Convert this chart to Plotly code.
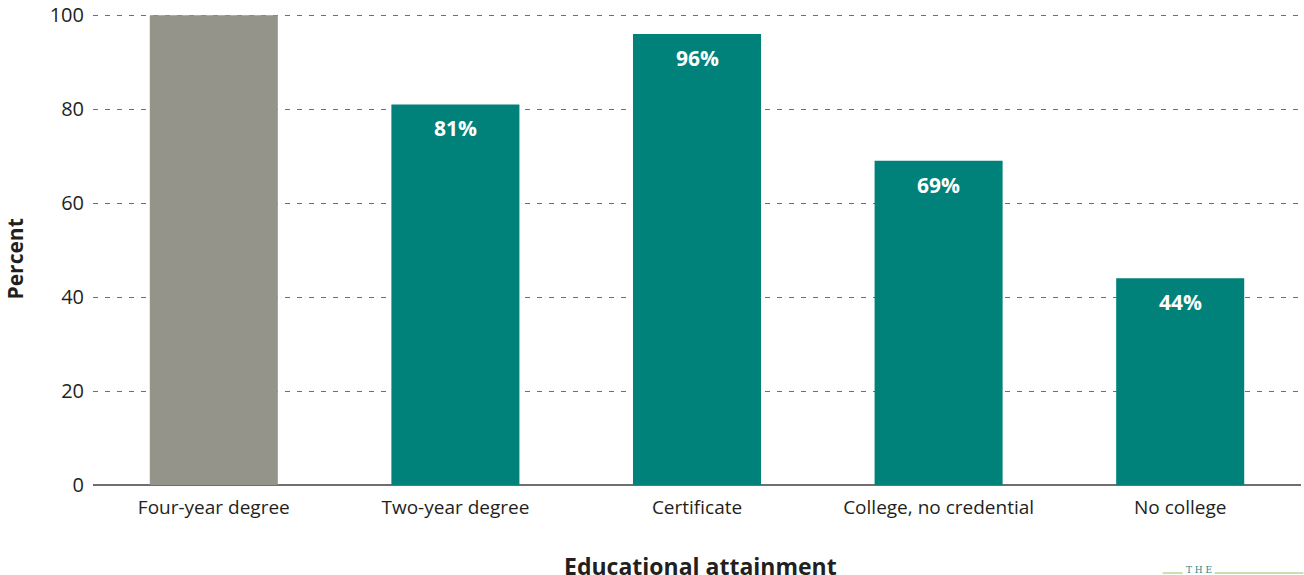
import plotly.graph_objects as go

categories = ["Four-year degree", "Two-year degree", "Certificate", "College, no credential", "No college"]
values = [100, 81, 96, 69, 44]
labels = ["", "81%", "96%", "69%", "44%"]
colors = ["#94948a", "#00827a", "#00827a", "#00827a", "#00827a"]

fig = go.Figure()
fig.add_trace(go.Bar(x=categories, y=values, marker=dict(color=colors, line=dict(width=0)),
                     hoverinfo="skip", showlegend=False))

for c, v, t in zip(categories, values, labels):
    if t:
        fig.add_annotation(x=c, y=v, text="<b>%s</b>" % t, showarrow=False, yanchor="top",
                           yshift=-8, font=dict(family="Open Sans", size=21, color="white"))

# axis titles
fig.add_annotation(xref="paper", yref="paper", x=0.503, y=-0.173, text="<b>Educational attainment</b>",
                   showarrow=False, yanchor="middle", xanchor="center",
                   font=dict(family="Open Sans", size=23, color="#231f20"))
fig.add_annotation(xref="paper", yref="paper", x=-0.0645, y=0.479, text="<b>Percent</b>", textangle=-90,
                   showarrow=False, yanchor="middle", xanchor="center",
                   font=dict(family="Open Sans", size=21, color="#231f20"))

# logo fragment
fig.add_annotation(xref="paper", yref="paper", x=0.9155, y=-0.181, text="T H E", showarrow=False,
                   yanchor="middle", xanchor="center",
                   font=dict(family="DejaVu Serif", size=9, color="#2a8a86"))
fig.add_shape(type="line", xref="paper", yref="paper", x0=0.8855, x1=0.902, y0=-0.187, y1=-0.187,
              line=dict(color="#c8dfb0", width=2))
fig.add_shape(type="line", xref="paper", yref="paper", x0=0.9285, x1=1.002, y0=-0.187, y1=-0.187,
              line=dict(color="#c8dfb0", width=2))

fig.update_layout(
    width=1304, height=575,
    margin=dict(l=93, r=3, t=14, b=90, autoexpand=False),
    paper_bgcolor="white", plot_bgcolor="white",
    bargap=0.47,
    font=dict(family="Open Sans", size=19, color="#231f20"),
    xaxis=dict(showgrid=False, showline=False, ticks="", tickfont=dict(size=19, color="#231f20"),
               automargin=False, ticklabelstandoff=9),
    yaxis=dict(range=[0, 100.25], tickvals=[0, 20, 40, 60, 80, 100], showgrid=True,
               gridcolor="#6f6f6f", griddash="5px,7px", gridwidth=1,
               zeroline=True, zerolinecolor="#6f6f6f", zerolinewidth=1.5,
               ticks="", ticklabelstandoff=8, tickfont=dict(size=20, color="#231f20"),
               ticklabeloverflow="allow", automargin=False),
)
fig.write_html("out.html", config={"displayModeBar": False},
               post_script="document.body.style.margin='0';")
